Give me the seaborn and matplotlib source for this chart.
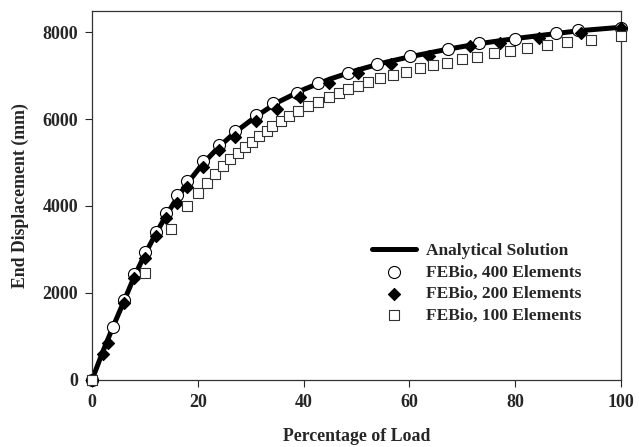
import numpy as np
import pandas as pd
import matplotlib
matplotlib.use('Agg')
import matplotlib.pyplot as plt
import seaborn as sns

# analytical curve
ana_x = [0, 2, 4, 6, 8, 10, 12, 14, 16, 18, 21, 24, 27, 31, 35, 40, 45, 50,
         55, 60, 67, 73, 80, 88, 92, 100]
ana_y = [0, 640, 1230, 1800, 2380, 2890, 3350, 3780, 4170, 4520, 4980, 5360,
         5690, 6060, 6380, 6680, 6920, 7120, 7290, 7430, 7600, 7730, 7850,
         7970, 8030, 8110]

# FEBio, 400 elements
x400 = [0, 4, 6, 8, 10, 12, 14, 16, 18, 21, 24, 27, 31, 34.3, 38.8, 42.8,
        48.3, 53.8, 60.1, 67.2, 73.2, 80, 87.7, 91.9, 100]
y400 = [0, 1220, 1840, 2440, 2950, 3410, 3830, 4250, 4580, 5030, 5400, 5730,
        6090, 6360, 6600, 6820, 7050, 7260, 7450, 7620, 7740, 7840, 7970,
        8050, 8100]

# FEBio, 200 elements
x200 = [0, 2, 3, 6, 8, 10, 12, 14, 16, 18, 21, 24, 27, 31, 34.9, 39.3, 44.7,
        50.2, 56.6, 63.6, 71.5, 77.1, 84.4, 92.5, 100]
y200 = [0, 600, 850, 1770, 2340, 2800, 3300, 3720, 4080, 4430, 4890, 5290,
        5590, 5960, 6240, 6510, 6820, 7050, 7260, 7450, 7670, 7740, 7870,
        7970, 8100]

# FEBio, 100 elements
x100 = [0, 10.1, 14.9, 18.0, 20.0, 21.7, 23.2, 24.8, 26.1, 27.5, 28.9, 30.2,
        31.6, 33.0, 34.1, 35.7, 37.3, 39.0, 40.9, 42.8, 44.7, 46.6, 48.3,
        50.2, 52.2, 54.4, 56.8, 59.4, 61.9, 64.5, 67.0, 69.9, 72.8, 75.9,
        79.0, 82.3, 85.9, 89.8, 94.3, 100]
y100 = [0, 2470, 3460, 4000, 4310, 4540, 4740, 4920, 5070, 5230, 5360, 5480,
        5610, 5720, 5840, 5960, 6070, 6190, 6300, 6400, 6500, 6590, 6680,
        6760, 6840, 6940, 7010, 7090, 7170, 7240, 7290, 7380, 7430, 7510,
        7560, 7640, 7700, 7760, 7820, 7900]

sns.set_style('ticks')
plt.rcParams['font.family'] = ['Liberation Serif', 'DejaVu Serif']
plt.rcParams['font.weight'] = 'bold'
plt.rcParams['axes.labelweight'] = 'bold'

fig = plt.figure(figsize=(6.39, 4.47), dpi=100)
ax = fig.add_axes([0.144, 0.150, 0.828, 0.825])

sns.lineplot(x=ana_x, y=ana_y, ax=ax, color='black', lw=3.6,
             label='Analytical Solution', zorder=2)
sns.scatterplot(x=x400, y=y400, ax=ax, marker='o', s=75, color='white',
                edgecolor='black', linewidth=0.8, label='FEBio, 400 Elements',
                zorder=3, clip_on=False)
sns.scatterplot(x=x200, y=y200, ax=ax, marker='D', s=38, color='black',
                edgecolor='black', linewidth=0.8, label='FEBio, 200 Elements',
                zorder=4, clip_on=False)
sns.scatterplot(x=x100, y=y100, ax=ax, marker='s', s=55, color='white',
                edgecolor='#333333', linewidth=0.8, label='FEBio, 100 Elements',
                zorder=5, clip_on=False)

ax.set_xlim(0, 100)
ax.set_ylim(0, 8480)
ax.set_xticks([0, 20, 40, 60, 80, 100])
ax.set_yticks([0, 2000, 4000, 6000, 8000])
ax.tick_params(direction='out', length=5, width=0.8, labelsize=13, pad=5)
for lab in ax.get_xticklabels() + ax.get_yticklabels():
    lab.set_fontweight('bold')
for sp in ax.spines.values():
    sp.set_linewidth(0.9)
    sp.set_color('#333333')

ax.set_xlabel('Percentage of Load', fontsize=12.8, labelpad=12)
ax.set_ylabel('End Displacement (mm)', fontsize=12.8, labelpad=10)

leg = ax.legend(loc='center left', bbox_to_anchor=(0.5, 0.262), frameon=False,
                prop={'weight': 'bold', 'size': 12.5}, handlelength=2.5,
                handletextpad=0.6, labelspacing=0.3)

fig.savefig('out.png', dpi=100)
